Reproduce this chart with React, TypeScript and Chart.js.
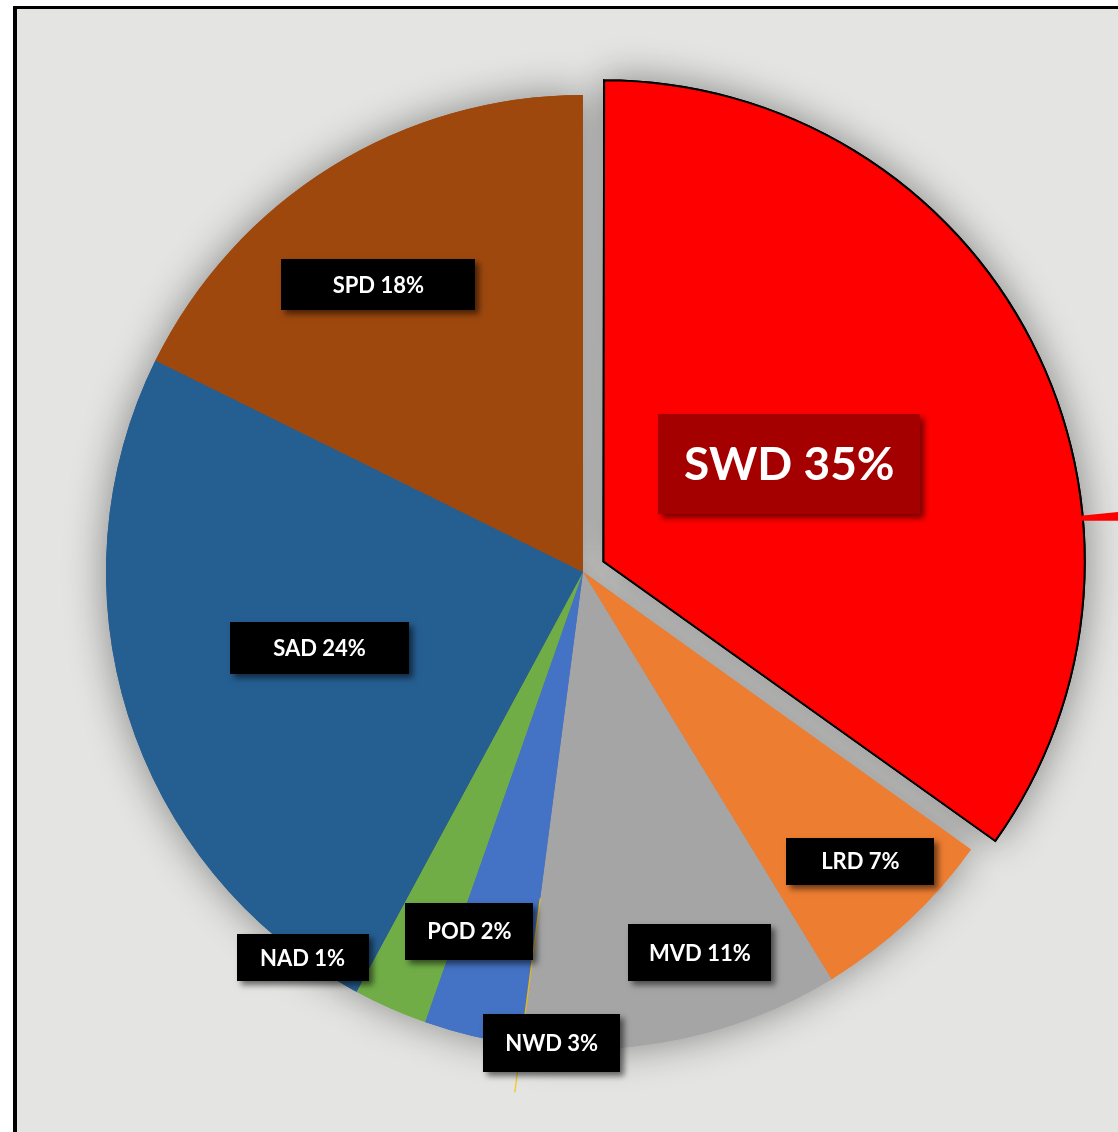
import React, { useEffect, useRef } from 'react';
import { Chart, registerables } from 'chart.js';

Chart.register(...registerables);

// ---- Data ----
const categories = ['SWD', 'LRD', 'MVD', 'NWD', 'POD', 'NAD', 'SAD', 'SPD'];
const shares = [34.9, 6.4, 10.8, 3.3, 2.5, 0.15, 24.3, 17.7];
const labelPercents = ['35%', '7%', '11%', '3%', '2%', '1%', '24%', '18%'];

// ---- Styles ----
const sliceColors = ['#ff0000', '#ed7d31', '#a5a5a5', '#4472c4', '#70ad47', '#255e91', '#255e91', '#9e480e'];
const sliceBorderWidths = [2, 0, 0, 0, 0, 0, 0, 0];
// Chart.js translates an exploded arc by offset/4
const sliceOffsets = [92, 0, 0, 0, 0, 0, 0, 0];
const labelRadius = [0.44, 0.84, 0.835, 0.99, 0.79, 1.0, 0.575, 0.74];
const labelAngleShift = [-0.5, -0.9, -5.1, -9.6, -6.3, 7.4, 1.3, -3.6];
const labelBoxSizes = [
  [262, 100],
  [148, 47],
  [143, 57],
  [137, 58],
  [128, 57],
  [132, 47],
  [179, 52],
  [194, 51],
];
const labelFills = ['#a50000', '#000', '#000', '#000', '#000', '#000', '#000', '#000'];
const labelFontSizes = [46, 22, 22, 22, 22, 22, 22, 22];
const FONT = 'Lato, "Open Sans", sans-serif';

const decorPlugin = {
  id: 'pieDecor',
  beforeDatasetsDraw(chart: any) {
    const ctx = chart.ctx;
    const meta = chart.getDatasetMeta(0);
    ctx.save();
    ctx.shadowColor = 'rgba(0,0,0,0.42)';
    ctx.shadowBlur = 40;
    meta.data.forEach((arc: any) => arc.draw(ctx));
    ctx.restore();
  },
  afterDatasetsDraw(chart: any) {
    const ctx = chart.ctx;
    const meta = chart.getDatasetMeta(0);
    const first = meta.data[0].getProps(['x', 'y', 'startAngle', 'endAngle', 'outerRadius'], true);
    const R = first.outerRadius;
    // faint gold leader line along the MVD / NWD boundary
    {
      const mvd = meta.data[2].getProps(['x', 'y', 'endAngle'], true);
      const a = mvd.endAngle;
      ctx.save();
      ctx.strokeStyle = 'rgba(255,192,0,0.85)';
      ctx.lineWidth = 1.3;
      ctx.beginPath();
      ctx.moveTo(mvd.x + Math.cos(a) * R * 0.69, mvd.y + Math.sin(a) * R * 0.69);
      ctx.lineTo(mvd.x + Math.cos(a) * R * 1.1, mvd.y + Math.sin(a) * R * 1.1);
      ctx.stroke();
      ctx.restore();
    }
    // red leader stub at the right of SWD
    {
      const swdOff = (meta.data[0].options.offset || 0) / 4;
      const mid = (first.startAngle + first.endAngle) / 2;
      const cx = first.x + Math.cos(mid) * swdOff;
      const cy = first.y + Math.sin(mid) * swdOff;
      const a = first.startAngle + (first.endAngle - first.startAngle) * 0.675;
      const sx = cx + Math.cos(a) * (R + 2);
      const sy = cy + Math.sin(a) * (R + 2);
      ctx.save();
      ctx.fillStyle = '#ff0000';
      ctx.beginPath();
      ctx.moveTo(sx, sy - 2);
      ctx.lineTo(sx + 40, sy - 6);
      ctx.lineTo(sx + 40, sy + 3);
      ctx.lineTo(sx, sy + 3);
      ctx.closePath();
      ctx.fill();
      ctx.restore();
    }
    // labels
    meta.data.forEach((arc: any, i: number) => {
      const p = arc.getProps(['x', 'y', 'startAngle', 'endAngle', 'outerRadius'], true);
      const mid = (p.startAngle + p.endAngle) / 2;
      const off = (arc.options.offset || 0) / 4;
      const cx = p.x + Math.cos(mid) * off;
      const cy = p.y + Math.sin(mid) * off;
      const a = mid + (labelAngleShift[i] * Math.PI) / 180;
      const lx = cx + Math.cos(a) * p.outerRadius * labelRadius[i];
      const ly = cy + Math.sin(a) * p.outerRadius * labelRadius[i];
      const [w, h] = labelBoxSizes[i];
      ctx.save();
      ctx.shadowColor = 'rgba(0,0,0,0.55)';
      ctx.shadowBlur = 6;
      ctx.shadowOffsetX = 4;
      ctx.shadowOffsetY = 4;
      ctx.fillStyle = labelFills[i];
      ctx.fillRect(Math.round(lx - w / 2), Math.round(ly - h / 2), w, h);
      ctx.restore();
      ctx.save();
      ctx.fillStyle = '#ffffff';
      ctx.font = `bold ${labelFontSizes[i]}px ${FONT}`;
      ctx.textAlign = 'center';
      ctx.textBaseline = 'middle';
      ctx.fillText(`${categories[i]} ${labelPercents[i]}`, lx, ly + 1);
      ctx.restore();
    });
  },
};

export default function App() {
  const canvasRef = useRef<HTMLCanvasElement | null>(null);

  useEffect(() => {
    document.body.style.margin = '0';
    document.body.style.overflow = 'hidden';
    const canvas = canvasRef.current;
    if (!canvas) return;
    const chart = new Chart(canvas, {
      type: 'pie',
      data: {
        labels: categories,
        datasets: [
          {
            data: shares,
            backgroundColor: sliceColors,
            borderColor: '#000000',
            borderWidth: sliceBorderWidths,
            offset: sliceOffsets,
            borderJoinStyle: 'miter',
          } as any,
        ],
      },
      options: {
        animation: false,
        responsive: false,
        maintainAspectRatio: false,
        devicePixelRatio: 1,
        radius: 477,
        layout: { padding: { left: 48, top: 12, right: 0, bottom: 0 } },
        plugins: {
          legend: { display: false },
          tooltip: { enabled: false },
        },
        events: [],
      } as any,
      plugins: [decorPlugin],
    });
    return () => chart.destroy();
  }, []);

  return (
    <div
      style={{
        position: 'fixed',
        left: 0,
        top: 0,
        width: 1118,
        height: 1132,
        overflow: 'hidden',
        background: '#ffffff',
      }}
    >
      <div
        style={{
          position: 'absolute',
          left: 13,
          top: 6,
          width: 1300,
          height: 1300,
          borderLeft: '4px solid #000',
          borderTop: '3px solid #000',
          background: '#e4e4e3',
        }}
      />
      <canvas
        ref={canvasRef}
        width={1118}
        height={1132}
        style={{ position: 'absolute', left: 0, top: 0, width: 1118, height: 1132 }}
      />
    </div>
  );
}
